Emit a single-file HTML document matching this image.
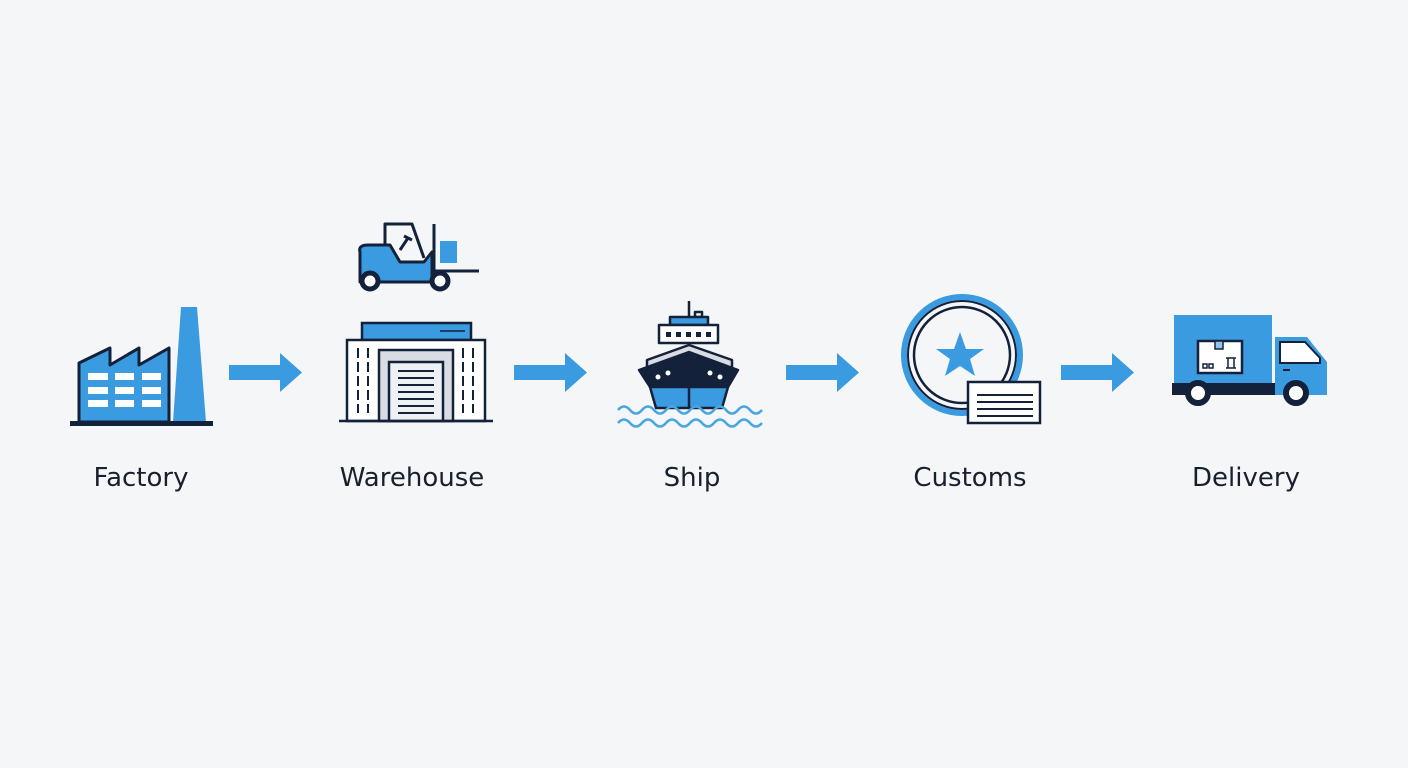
<!DOCTYPE html>
<html><head><meta charset="utf-8"><style>
html,body{margin:0;padding:0;background:#f5f6f8;}
svg{display:block}
text{font-family:"DejaVu Sans","Liberation Sans",sans-serif;font-size:26px;fill:#18202e;text-anchor:middle}
</style></head><body>
<svg width="1408" height="768" viewBox="0 0 1408 768">
<rect width="1408" height="768" fill="#f5f6f8"/>
<g stroke="#14213a" stroke-width="3" stroke-linejoin="round">
<path d="M79,363 L110,348 L110,365 L139,348 L139,365 L169,348 L169,422 L79,422 Z" fill="#3a9be0"/>
<path d="M181,307 L197,307 L206,422 L173,422 Z" fill="#3a9be0" stroke="none"/>
</g>
<g fill="#fff">
<rect x="88" y="373" width="20" height="7"/><rect x="115" y="373" width="19" height="7"/><rect x="142" y="373" width="19" height="7"/>
<rect x="88" y="387" width="20" height="7"/><rect x="115" y="387" width="19" height="7"/><rect x="142" y="387" width="19" height="7"/>
<rect x="88" y="400" width="20" height="7"/><rect x="115" y="400" width="19" height="7"/><rect x="142" y="400" width="19" height="7"/>
</g>
<rect x="70" y="421" width="143" height="5" fill="#14213a"/>

<g fill="#3a9be0">
<path d="M229,365 H280 V353 L302,372.5 L280,392 V380 H229 Z"/>
<path d="M514,365 H565 V353 L587,372.5 L565,392 V380 H514 Z"/>
<path d="M786,365 H837 V353 L859,372.5 L837,392 V380 H786 Z"/>
<path d="M1061,365 H1112 V353 L1134,372.5 L1112,392 V380 H1061 Z"/>
</g>

<g stroke="#14213a" stroke-width="3" stroke-linejoin="round" fill="none">
<path d="M385,263 V224 H412 L424,258"/>
<path d="M400,250 L408,238 M404,236 L412,240"/>
<path d="M360,252 Q358,245 368,245 L390,245 L400,262 L424,262 L432,252 L432,282 L360,282 Z" fill="#3a9be0"/>
<line x1="434" y1="224" x2="434" y2="283"/>
<line x1="434" y1="271" x2="479" y2="271"/>
</g>
<rect x="440" y="241" width="17" height="22" fill="#3a9be0"/>
<circle cx="370" cy="281" r="8" fill="#fff" stroke="#14213a" stroke-width="5"/>
<circle cx="440" cy="281" r="8" fill="#fff" stroke="#14213a" stroke-width="5"/>

<g stroke="#14213a" stroke-width="2.5">
<rect x="362" y="323" width="109" height="17" fill="#3a9be0"/>
<rect x="347" y="340" width="138" height="81" fill="#fff"/>
<rect x="379" y="350" width="74" height="71" fill="#d9dce2"/>
<rect x="389" y="362" width="54" height="59" fill="#eef0f3"/>
<line x1="339" y1="421" x2="493" y2="421"/>
</g>
<g stroke="#14213a" stroke-width="2">
<line x1="398" y1="371" x2="434" y2="371"/><line x1="398" y1="378" x2="434" y2="378"/><line x1="398" y1="385" x2="434" y2="385"/><line x1="398" y1="392" x2="434" y2="392"/><line x1="398" y1="399" x2="434" y2="399"/><line x1="398" y1="406" x2="434" y2="406"/><line x1="398" y1="413" x2="434" y2="413"/>
<g stroke-dasharray="10,4"><line x1="358" y1="348" x2="358" y2="413"/><line x1="368" y1="348" x2="368" y2="413"/><line x1="463" y1="348" x2="463" y2="413"/><line x1="473" y1="348" x2="473" y2="413"/></g>
<line x1="440" y1="331" x2="465" y2="331" stroke-width="1.5"/>
</g>

<g stroke="#14213a" stroke-width="2.5" stroke-linejoin="round">
<line x1="689" y1="301" x2="689" y2="317"/>
<rect x="695" y="312" width="7" height="5" fill="#fff"/>
<rect x="670" y="317" width="38" height="8" fill="#3a9be0"/>
<rect x="659" y="325" width="59" height="18" fill="#fff"/>
<path d="M647,360 L689,345 L732,360 L732,368 L647,368 Z" fill="#d9dce2"/>
<path d="M639,370 L689,352 L738,370 L728,387 L650,387 Z" fill="#14213a"/>
<path d="M650,387 L728,387 L722,408 L656,408 Z" fill="#3a9be0"/>
<line x1="689" y1="352" x2="689" y2="408"/>
</g>
<g fill="#14213a"><rect x="666" y="332" width="5" height="5"/><rect x="676" y="332" width="5" height="5"/><rect x="686" y="332" width="5" height="5"/><rect x="696" y="332" width="5" height="5"/><rect x="706" y="332" width="5" height="5"/></g>
<g fill="#fff"><circle cx="658" cy="377" r="2.5"/><circle cx="668" cy="373" r="2.5"/><circle cx="710" cy="373" r="2.5"/><circle cx="720" cy="377" r="2.5"/></g>
<g fill="none" stroke="#4aa6e0" stroke-width="2.5">
<path d="M618,410 q6,-7 12,0 t12,0 t12,0 t12,0 t12,0 t12,0 t12,0 t12,0 t12,0 t12,0 t12,0 t12,0"/>
<path d="M618,423 q6,-7 12,0 t12,0 t12,0 t12,0 t12,0 t12,0 t12,0 t12,0 t12,0 t12,0 t12,0 t12,0"/>
</g>

<circle cx="962" cy="355" r="58" fill="none" stroke="#3a9be0" stroke-width="6"/>
<circle cx="962" cy="355" r="54" fill="none" stroke="#14213a" stroke-width="2"/>
<circle cx="962" cy="355" r="48" fill="#f5f6f8" stroke="#14213a" stroke-width="2.5"/>
<path d="M960,332 L966,349 L984,349 L970,359 L975,376 L960,366 L945,376 L950,359 L936,349 L954,349 Z" fill="#3a9be0"/>
<rect x="968" y="382" width="72" height="41" fill="#fff" stroke="#14213a" stroke-width="2.5"/>
<g stroke="#14213a" stroke-width="2"><line x1="977" y1="395" x2="1033" y2="395"/><line x1="977" y1="402" x2="1033" y2="402"/><line x1="977" y1="409" x2="1033" y2="409"/><line x1="977" y1="416" x2="1033" y2="416"/></g>

<rect x="1174" y="315" width="98" height="70" fill="#3a9be0"/>
<path d="M1275,337 L1307,337 L1327,362 L1327,395 L1275,395 Z" fill="#3a9be0"/>
<path d="M1280,342 L1305,342 L1320,358 L1320,363 L1280,363 Z" fill="#fff" stroke="#14213a" stroke-width="2"/>
<rect x="1172" y="383" width="103" height="12" fill="#14213a"/>
<rect x="1283" y="369" width="7" height="2" fill="#14213a"/>
<rect x="1198" y="341" width="44" height="32" fill="#fff" stroke="#14213a" stroke-width="2.5"/>
<rect x="1215" y="341" width="8" height="8" fill="#8cc4ec" stroke="#14213a" stroke-width="1.5"/>
<g fill="none" stroke="#14213a" stroke-width="1.5"><rect x="1203" y="364" width="4" height="4"/><rect x="1209" y="364" width="4" height="4"/><path d="M1226,358 h10 M1228,358 v10 M1234,358 v10 M1226,368 h10"/></g>
<circle cx="1198" cy="393" r="10" fill="#fff" stroke="#14213a" stroke-width="6"/>
<circle cx="1296" cy="393" r="10" fill="#fff" stroke="#14213a" stroke-width="6"/>

<text x="141" y="486">Factory</text>
<text x="412" y="486">Warehouse</text>
<text x="692" y="486">Ship</text>
<text x="970" y="486">Customs</text>
<text x="1246" y="486">Delivery</text>
</svg>
</body></html>
